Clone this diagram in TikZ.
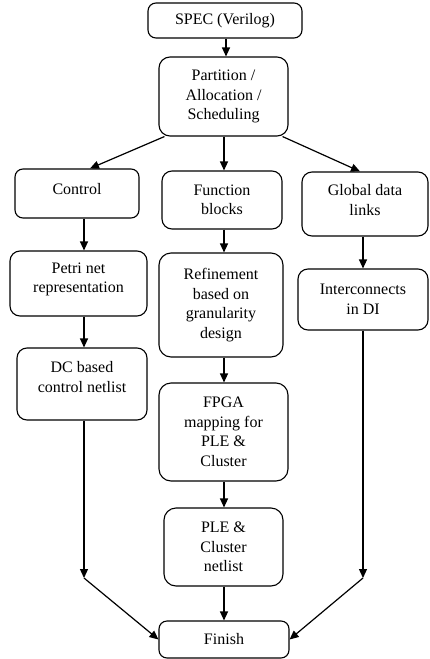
\documentclass[tikz,border=0pt]{standalone}
\usepackage{fontspec}
\setmainfont{Liberation Serif}
\usetikzlibrary{arrows.meta,calc}
\begin{document}
\begin{tikzpicture}[x=1pt,y=-1pt,
  box/.style={draw=black,line width=1.1pt,rounded corners=8pt,align=center,inner sep=2pt,
    font=\fontsize{16}{19.5}\selectfont},
  txt/.style={align=center,inner sep=0pt,font=\fontsize{16}{19.5}\selectfont},
  arr/.style={line width=1.2pt,-{Triangle[length=9pt,width=8pt]}},
  ln/.style={line width=1.2pt}]
\useasboundingbox (0,0) rectangle (429,659);

\node[box,minimum width=154pt,minimum height=35pt] (spec) at (225,20.5) {SPEC (Verilog)};
\node[box,rounded corners=11pt,minimum width=129pt,minimum height=79pt] (part) at (223.5,96.5) {Partition /\\Allocation /\\Scheduling};

\node[box,minimum width=124pt,minimum height=49pt,label={[txt,name=ctlt,yshift=4pt]center:Control}] (ctl) at (77,193.5) {};
\node[box,rounded corners=10pt,minimum width=120pt,minimum height=58pt] (fb) at (222,200) {Function\\blocks};
\node[box,rounded corners=10pt,minimum width=126pt,minimum height=64pt,label={[txt,name=gdlt,yshift=4pt]center:Global data\\links}] (gdl) at (365,204) {};

\node[box,rounded corners=10pt,minimum width=137pt,minimum height=65pt,label={[txt,name=petrit,yshift=4pt]center:Petri net\\representation}] (petri) at (78.5,283.5) {};
\node[box,rounded corners=12pt,minimum width=124pt,minimum height=104pt] (ref) at (221,305) {Refinement\\based on\\granularity\\design};
\node[box,rounded corners=10pt,minimum width=130pt,minimum height=61pt] (ic) at (363,299.5) {Interconnects\\in DI};

\node[box,rounded corners=10pt,minimum width=130pt,minimum height=72pt,label={[txt,name=dct,yshift=7pt]center:DC based\\control netlist}] (dc) at (82,384) {};
\node[box,rounded corners=12pt,minimum width=129pt,minimum height=98pt] (fpga) at (223.5,432) {FPGA\\mapping for\\PLE \&\\Cluster};
\node[box,rounded corners=12pt,minimum width=119pt,minimum height=78pt] (ple) at (223.5,547) {PLE \&\\Cluster\\netlist};
\node[box,minimum width=130pt,minimum height=37pt] (fin) at (224,639.5) {Finish};

\coordinate (cL) at (84,0);
\coordinate (cM) at (224,0);
\coordinate (cR) at (363,0);
\coordinate (cS) at (226,0);
\coordinate (jL) at (84,578);
\coordinate (jR) at (363,578);

\draw[arr] (spec.south -| cS) -- (part.north -| cS);
\draw[arr] ($(part.south west)+(6,0)$) -- ($(ctl.north)+(13,0)$);
\draw[arr] (part.south -| cM) -- (fb.north -| cM);
\draw[arr] ($(part.south east)+(-6,0)$) -- ($(gdl.north)+(-5,0)$);

\draw[arr] (ctl.south -| cL) -- (petri.north -| cL);
\draw[arr] (petri.south -| cL) -- (dc.north -| cL);
\draw[arr] (dc.south -| cL) -- (jL);
\draw[arr] (jL) -- (fin.west);

\draw[arr] (fb.south -| cM) -- (ref.north -| cM);
\draw[arr] (ref.south -| cM) -- (fpga.north -| cM);
\draw[arr] (fpga.south -| cM) -- (ple.north -| cM);
\draw[arr] (ple.south -| cM) -- (fin.north -| cM);

\draw[arr] (gdl.south -| cR) -- (ic.north -| cR);
\draw[arr] (ic.south -| cR) -- (jR);
\draw[arr] (jR) -- (fin.east);
\end{tikzpicture}
\end{document}
